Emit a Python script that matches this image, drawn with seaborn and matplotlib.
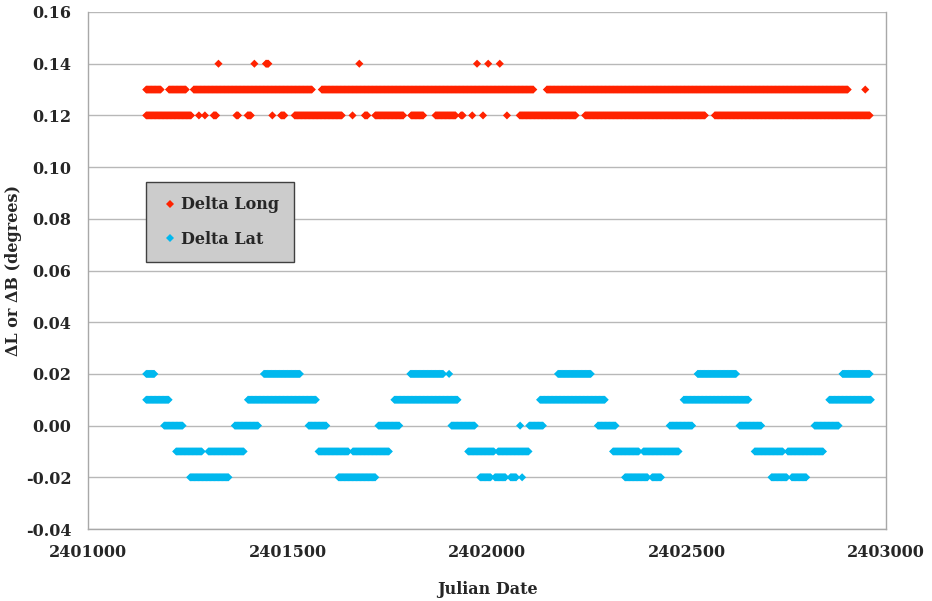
import numpy as np
import pandas as pd
import matplotlib
matplotlib.use('Agg')
import matplotlib.pyplot as plt
import seaborn as sns

# runs of consecutive daily values (first JD, last JD)
long_014 = [(2401327, 2401327), (2401417, 2401417), (2401446, 2401452), (2401680, 2401680),
            (2401975, 2401975), (2402003, 2402003), (2402032, 2402032)]
long_013 = [(2401146, 2401183), (2401203, 2401245), (2401265, 2401562), (2401586, 2402117),
            (2402150, 2402905), (2402948, 2402948)]
long_012 = [(2401146, 2401258), (2401278, 2401278), (2401293, 2401293), (2401315, 2401322),
            (2401372, 2401377), (2401400, 2401408), (2401462, 2401462), (2401484, 2401492),
            (2401518, 2401636), (2401663, 2401663), (2401694, 2401700), (2401720, 2401790),
            (2401810, 2401840), (2401871, 2401922), (2401935, 2401940), (2401963, 2401963),
            (2401990, 2401990), (2402050, 2402050), (2402082, 2402222), (2402246, 2402547),
            (2402571, 2402960)]

lat_p02 = [(2401146, 2401167), (2401441, 2401532), (2401808, 2401890), (2401905, 2401905),
           (2402178, 2402260), (2402528, 2402625), (2402891, 2402960)]
lat_p01 = [(2401146, 2401202), (2401401, 2401572), (2401768, 2401927), (2402133, 2402295),
           (2402493, 2402655), (2402858, 2402962)]
lat_000 = [(2401191, 2401237), (2401368, 2401427), (2401553, 2401597), (2401728, 2401780),
           (2401911, 2401970), (2402083, 2402083), (2402106, 2402140), (2402278, 2402322),
           (2402458, 2402515), (2402633, 2402687), (2402821, 2402882)]
lat_m01 = [(2401221, 2401286), (2401302, 2401390), (2401578, 2401652), (2401664, 2401755),
           (2401953, 2402018), (2402028, 2402105), (2402316, 2402380), (2402392, 2402480),
           (2402671, 2402742), (2402754, 2402842)]
lat_m02 = [(2401256, 2401352), (2401628, 2401720), (2401983, 2402010), (2402020, 2402046),
           (2402059, 2402074), (2402088, 2402088), (2402346, 2402402), (2402414, 2402437),
           (2402713, 2402752), (2402764, 2402800)]


def expand(runs, value, name):
    rows = []
    for a, b in runs:
        for jd in np.arange(a, b + 1, 2):
            rows.append((jd, value, name))
    return rows


rows = []
rows += expand(long_014, 0.14, 'Delta Long')
rows += expand(long_013, 0.13, 'Delta Long')
rows += expand(long_012, 0.12, 'Delta Long')
rows += expand(lat_p02, 0.02, 'Delta Lat')
rows += expand(lat_p01, 0.01, 'Delta Lat')
rows += expand(lat_000, 0.00, 'Delta Lat')
rows += expand(lat_m01, -0.01, 'Delta Lat')
rows += expand(lat_m02, -0.02, 'Delta Lat')
df = pd.DataFrame(rows, columns=['jd', 'delta', 'series'])

sns.set_style('white')
plt.rcParams['font.family'] = ['DejaVu Serif']

fig = plt.figure(figsize=(9.32, 6.01), dpi=100)
ax = fig.add_axes([88 / 932, 1 - 529 / 601, 798 / 932, 517 / 601])

sns.scatterplot(data=df, x='jd', y='delta', hue='series', marker='D', s=17, linewidth=0,
                palette={'Delta Long': '#FF2200', 'Delta Lat': '#00B8EE'}, ax=ax, zorder=3)

ax.set_xlim(2401000, 2403000)
ax.set_ylim(-0.04, 0.16)
ax.set_xticks([2401000, 2401500, 2402000, 2402500, 2403000])
ax.set_yticks(np.arange(-0.04, 0.161, 0.02))
ax.set_xticklabels(['2401000', '2401500', '2402000', '2402500', '2403000'])
ax.set_yticklabels(['%.2f' % v for v in np.arange(-0.04, 0.161, 0.02)])
ax.yaxis.grid(True, color='#b8b8b8', linewidth=1)
ax.set_axisbelow(True)
for sp in ax.spines.values():
    sp.set_color('#a8a8a8')
    sp.set_linewidth(1)
ax.spines['top'].set_visible(False)
ax.tick_params(axis='both', direction='out', length=5, color='#a8a8a8', labelsize=11.5)
for lab in ax.get_xticklabels() + ax.get_yticklabels():
    lab.set_fontweight('bold')
ax.tick_params(axis='x', pad=6)
ax.tick_params(axis='y', pad=7)

ax.set_xlabel('Julian Date', fontsize=11.5, fontweight='bold', labelpad=14)
ax.set_ylabel('ΔL or ΔB (degrees)', fontsize=11.5, fontweight='bold', labelpad=3)

handles, labels = ax.get_legend_handles_labels()
leg = ax.legend(handles, labels, loc='upper left', bbox_to_anchor=(0.0727, 0.671),
                borderaxespad=0, frameon=True, fancybox=False, facecolor='#CCCCCC',
                edgecolor='#404040', prop={'weight': 'bold', 'size': 11.5}, handletextpad=0.1,
                labelspacing=1.1, borderpad=0.9, markerscale=0.9, handlelength=1.2)
leg.get_frame().set_alpha(1)
leg.get_frame().set_linewidth(1)

fig.savefig('out.png', dpi=100)
